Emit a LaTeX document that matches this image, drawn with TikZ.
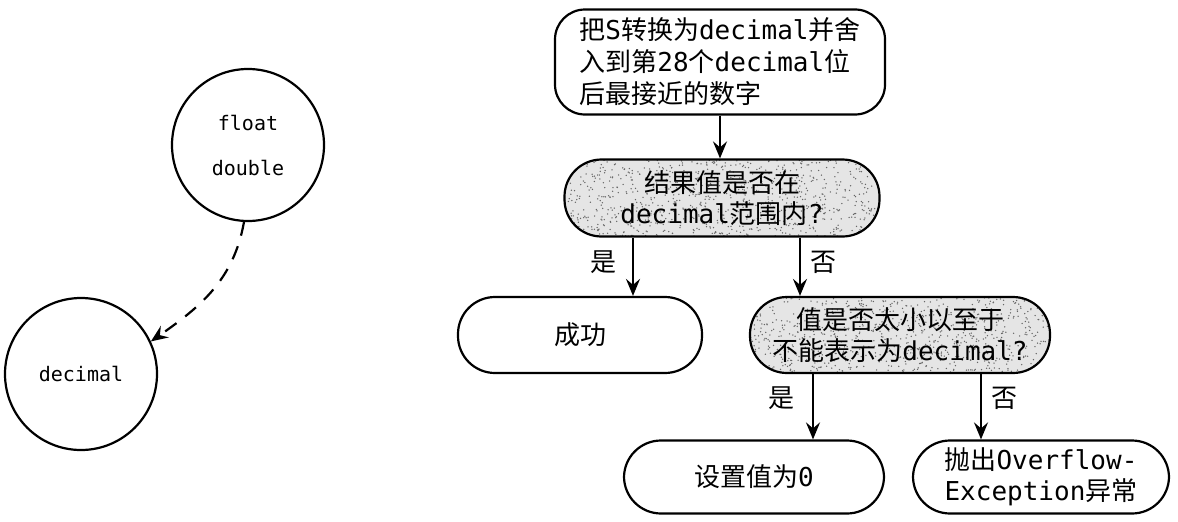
\documentclass[tikz,border=0pt]{standalone}
\usepackage{fontspec}
\setmainfont{DejaVu Sans Mono}
\newfontfamily\cjkfont{Noto Sans CJK SC}
\newcommand\zh[1]{{\cjkfont #1}}
\usetikzlibrary{arrows.meta,calc}
\begin{document}
\begin{tikzpicture}[x=1pt,y=-1pt,
  txt/.style={font=\fontsize{26}{31}\selectfont},
  term/.style={draw, line width=2.2pt, rounded corners=37pt, minimum height=76pt, align=center, txt, inner sep=0pt},
  stipple/.style={fill=black!10, path picture={
      \pgfmathsetseed{#1}
      \foreach \i in {1,...,900}{
        \fill[black!60] ($(path picture bounding box.north west)!rnd!(path picture bounding box.north east) + (0,rnd*80)$) circle (0.75pt);
      }}},
  dec/.style={term, stipple=#1},
  tip/.style={-{Stealth[length=17pt,width=14pt,inset=6pt]}},
  arr/.style={line width=2.2pt, tip},
  circ/.style={circle, draw, line width=2.2pt, minimum size=152pt, inner sep=0pt, align=center, font=\fontsize{20}{45}\selectfont},
  lbl/.style={txt, inner sep=0pt}
]
\useasboundingbox (0,0) rectangle (1178,522);

% left part
\node[circ] (fd) at (248,145) {float\\double};
\node[circ] (dc) at (81,374) {decimal};
\draw[line width=2.2pt, dash pattern=on 14pt off 11pt, tip] (fd.-93) to[out=-100,in=35] (dc.25);

% flowchart
\node[draw, line width=2.2pt, rounded corners=30pt, minimum width=330pt, minimum height=105pt, align=left, inner sep=0pt, font=\fontsize{26}{32}\selectfont] (b1) at (720,62)
  {\zh{把}S\zh{转换为}decimal\zh{并舍}\\\zh{入到第}28\zh{个}decimal\zh{位}\\\zh{后最接近的数字}};
\node[dec=3, minimum width=315pt, minimum height=77pt] (d1) at (722,198)
  {\zh{结果值是否在}\\decimal\zh{范围内}?};
\node[term, minimum width=244pt] (ok) at (580,335) {\zh{成功}};
\node[dec=5, minimum width=300pt] (d2) at (900,335)
  {\zh{值是否太小以至于}\\\zh{不能表示为}decimal?};
\node[term, minimum width=260pt, minimum height=73pt] (zero) at (754,477) {\zh{设置值为}0};
\node[term, minimum width=256pt, minimum height=73pt, align=left] (ex) at (1041,477)
  {\zh{抛出}Overflow-\\Exception\zh{异常}};

\draw[arr] (b1.south) -- (b1.south |- d1.north);
\draw[arr] ([xshift=-89pt]d1.south) -- ([xshift=-89pt]d1.south |- ok.north);
\draw[arr] ([xshift=78pt]d1.south) -- ([xshift=78pt]d1.south |- d2.north);
\draw[arr] ([xshift=-87pt]d2.south) -- ([xshift=-87pt]d2.south |- zero.north);
\draw[arr] ([xshift=81pt]d2.south) -- ([xshift=81pt]d2.south |- ex.north);

\node[lbl] (l1) at (603,262) {\zh{是}};
\node[lbl] (l2) at (823,262) {\zh{否}};
\node[lbl] (l3) at (781,398) {\zh{是}};
\node[lbl] (l4) at (1004,398) {\zh{否}};
\end{tikzpicture}
\end{document}
